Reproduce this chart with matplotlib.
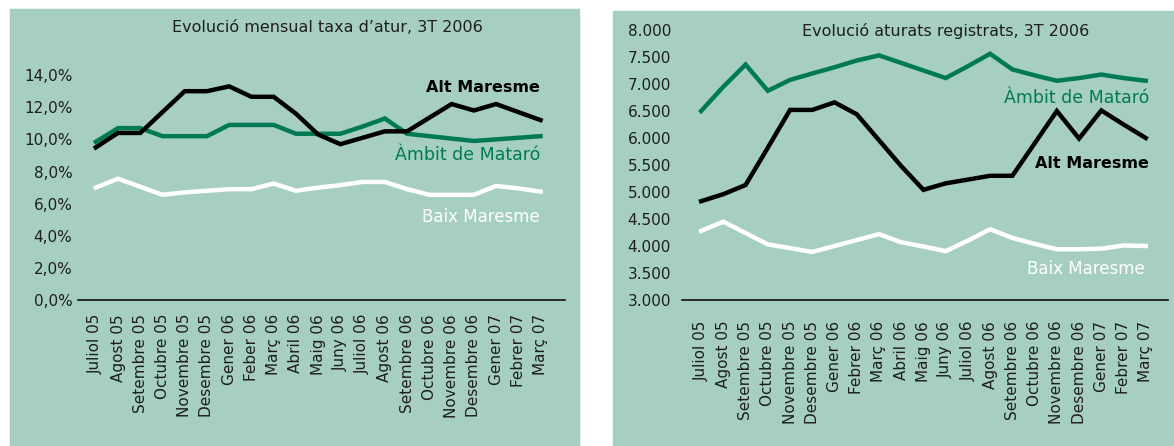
import matplotlib
matplotlib.use("Agg")
import matplotlib.pyplot as plt
from matplotlib.patches import Rectangle
from matplotlib.ticker import FuncFormatter

# mida de la figura en píxels
W, H = 1174, 446

mesos_taxa = [
    "Juliol 05", "Agost 05", "Setembre 05", "Octubre 05", "Novembre 05",
    "Desembre 05", "Gener 06", "Feber 06", "Març 06", "Abril 06", "Maig 06",
    "Juny 06", "Juliol 06", "Agost 06", "Setembre 06", "Octubre 06",
    "Novembre 06", "Desembre 06", "Gener 07", "Febrer 07", "Març 07",
]
mesos_aturats = [
    "Juliol 05", "Agost 05", "Setembre 05", "Octubre 05", "Novembre 05",
    "Desembre 05", "Gener 06", "Febrer 06", "Març 06", "Abril 06", "Maig 06",
    "Juny 06", "Juliol 06", "Agost 06", "Setembre 06", "Octubre 06",
    "Novembre 06", "Desembre 06", "Gener 07", "Febrer 07", "Març 07",
]

# taxa d'atur (%)
taxa_alt = [9.5, 10.4, 10.4, 11.7, 13.0, 13.0, 13.3, 12.65, 12.65, 11.6, 10.3,
            9.7, 10.1, 10.5, 10.5, 11.35, 12.2, 11.8, 12.2, 11.7, 11.2]
taxa_ambit = [9.85, 10.7, 10.7, 10.2, 10.2, 10.2, 10.9, 10.9, 10.9, 10.35, 10.35,
              10.35, 10.8, 11.3, 10.35, 10.2, 10.05, 9.9, 10.0, 10.1, 10.2]
taxa_baix = [7.0, 7.55, 7.05, 6.55, 6.7, 6.8, 6.9, 6.9, 7.25, 6.8, 7.0,
             7.15, 7.35, 7.35, 6.9, 6.55, 6.55, 6.55, 7.1, 6.95, 6.75]

# aturats registrats
aturats_alt = [4830, 4960, 5130, 5820, 6520, 6520, 6660, 6440, 5960, 5480, 5040,
               5160, 5230, 5300, 5300, 5900, 6500, 5990, 6510, 6250, 6000]
aturats_ambit = [6500, 6950, 7360, 6875, 7075, 7195, 7310, 7435, 7530, 7390, 7250,
                 7110, 7330, 7560, 7270, 7160, 7060, 7110, 7175, 7110, 7060]
aturats_baix = [4280, 4450, 4240, 4030, 3960, 3890, 4000, 4110, 4220, 4070, 3990,
                3905, 4100, 4310, 4150, 4040, 3940, 3940, 3950, 4010, 4000]

FONS = "#a6cfc2"
VERD = "#007a54"
TEXT = "#1e1e1e"


def fx(x):
    return x / W


def fy(y):
    return 1 - y / H


def eixos(fig, x0, y0, x1, y1):
    """Eixos situats amb coordenades de píxel (origen a dalt a l'esquerra)."""
    ax = fig.add_axes([fx(x0), fy(y1), (x1 - x0) / W, (y1 - y0) / H])
    ax.patch.set_alpha(0)
    for s in ("top", "right", "left"):
        ax.spines[s].set_visible(False)
    ax.spines["bottom"].set_linewidth(1.2)
    ax.spines["bottom"].set_color("#111111")
    return ax


fig = plt.figure(figsize=(W / 100, H / 100), dpi=100)
fig.patch.set_facecolor("white")

# panells de fons
fig.add_artist(Rectangle((fx(10), fy(446)), fx(569), 437 / H,
                         transform=fig.transFigure, color=FONS, zorder=0))
fig.add_artist(Rectangle((fx(613), fy(446)), fx(561), 435 / H,
                         transform=fig.transFigure, color=FONS, zorder=0))

# --- taxa d'atur ---
ax1 = eixos(fig, 78, 43, 565, 300)
x = range(len(mesos_taxa))
ax1.plot(x, taxa_ambit, color=VERD, lw=3.2, solid_joinstyle="miter")
ax1.plot(x, taxa_baix, color="white", lw=3.2, solid_joinstyle="miter")
ax1.plot(x, taxa_alt, color="black", lw=3.2, solid_joinstyle="miter")
ax1.set_xlim(-0.8, 21.1)
ax1.set_ylim(0, 16)
ax1.set_yticks(range(0, 15, 2))
ax1.yaxis.set_major_formatter(
    FuncFormatter(lambda v, p: f"{v:.1f}".replace(".", ",") + "%"))
ax1.set_xticks(list(x))
ax1.set_xticklabels(mesos_taxa, rotation=90)
ax1.tick_params(axis="y", length=0, pad=4, labelsize=11, labelcolor=TEXT)
ax1.tick_params(axis="x", length=0, pad=10, labelsize=11, labelcolor=TEXT)

fig.text(fx(327), fy(27), "Evolució mensual taxa d’atur, 3T 2006",
         ha="center", va="center", fontsize=11.5, color=TEXT)
fig.text(fx(540), fy(87), "Alt Maresme", ha="right", va="center",
         fontsize=11.5, fontweight="bold", color="black")
fig.text(fx(540), fy(155), "Àmbit de Mataró", ha="right", va="center",
         fontsize=12.5, color=VERD)
fig.text(fx(540), fy(217), "Baix Maresme", ha="right", va="center",
         fontsize=12, color="white")

# --- aturats registrats ---
ax2 = eixos(fig, 682, 30, 1168, 300)
x = range(len(mesos_aturats))
ax2.plot(x, aturats_ambit, color=VERD, lw=3.2, solid_joinstyle="miter")
ax2.plot(x, aturats_baix, color="white", lw=3.2, solid_joinstyle="miter")
ax2.plot(x, aturats_alt, color="black", lw=3.2, solid_joinstyle="miter")
ax2.set_xlim(-0.86, 21.0)
ax2.set_ylim(3000, 8000)
ax2.set_yticks(range(3000, 8001, 500))
ax2.yaxis.set_major_formatter(
    FuncFormatter(lambda v, p: f"{int(v):,}".replace(",", ".")))
ax2.set_xticks(list(x))
ax2.set_xticklabels(mesos_aturats, rotation=90)
ax2.tick_params(axis="y", length=0, pad=8, labelsize=11, labelcolor=TEXT)
ax2.tick_params(axis="x", length=0, pad=15, labelsize=11, labelcolor=TEXT)

fig.text(fx(946), fy(31), "Evolució aturats registrats, 3T 2006",
         ha="center", va="center", fontsize=11.5, color=TEXT)
fig.text(fx(1149), fy(98), "Àmbit de Mataró", ha="right", va="center",
         fontsize=12.5, color=VERD)
fig.text(fx(1149), fy(163), "Alt Maresme", ha="right", va="center",
         fontsize=11.5, fontweight="bold", color="black")
fig.text(fx(1145), fy(269), "Baix Maresme", ha="right", va="center",
         fontsize=12, color="white")

fig.savefig("out.png", dpi=100, facecolor=fig.get_facecolor())
